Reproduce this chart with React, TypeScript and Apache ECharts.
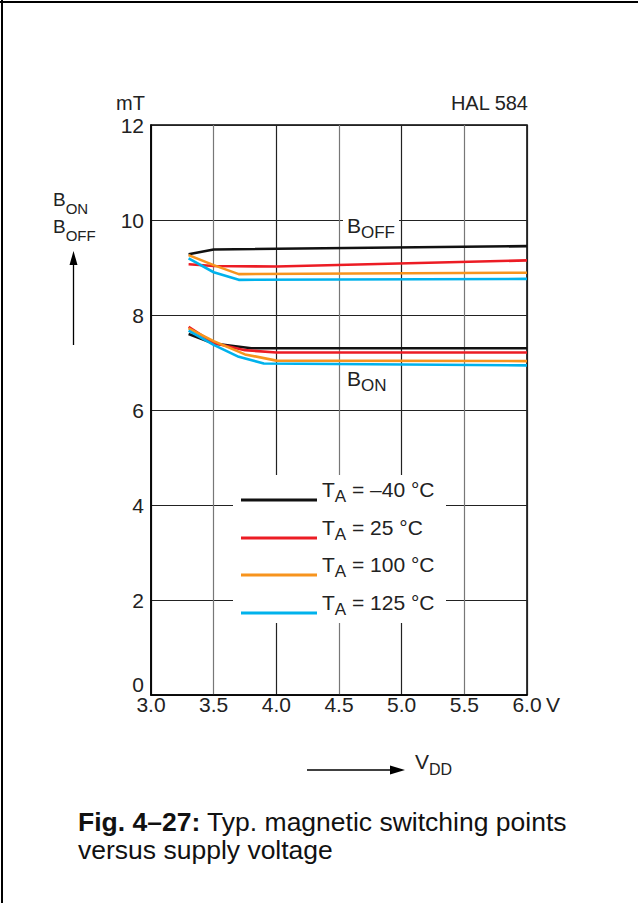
import React, { useEffect, useRef } from "react";
import * as echarts from "echarts";

const FONT = '"Liberation Sans", Arial, Helvetica, sans-serif';
const TEXT = "#222222";

// ---- data ----
const xMin = 3.0;
const xMax = 6.0;
const xStep = 0.5;
const yMin = 0;
const yMax = 12;
const yStep = 2;

const tempLabels = ["–40", "25", "100", "125"];
const tempColors = ["#111111", "#ec1c24", "#f7941d", "#00b2ec"];

const bOffV_m40 = [3.3, 3.5, 6.0];
const bOff_m40 = [9.28, 9.38, 9.45];
const bOffV_25 = [3.3, 3.5, 4.0, 6.0];
const bOff_25 = [9.07, 9.03, 9.02, 9.15];
const bOffV_100 = [3.3, 3.5, 3.7, 6.0];
const bOff_100 = [9.26, 9.05, 8.86, 8.89];
const bOffV_125 = [3.3, 3.5, 3.7, 6.0];
const bOff_125 = [9.19, 8.9, 8.74, 8.76];

const bOnV_m40 = [3.3, 3.5, 3.8, 6.0];
const bOn_m40 = [7.6, 7.4, 7.3, 7.3];
const bOnV_25 = [3.3, 3.5, 3.75, 4.0, 6.0];
const bOn_25 = [7.75, 7.41, 7.26, 7.21, 7.21];
const bOnV_100 = [3.3, 3.5, 3.75, 4.0, 6.0];
const bOn_100 = [7.72, 7.45, 7.17, 7.04, 7.03];
const bOnV_125 = [3.3, 3.5, 3.7, 3.9, 6.0];
const bOn_125 = [7.67, 7.37, 7.12, 6.98, 6.94];

const offCurves = [
  [bOffV_m40, bOff_m40],
  [bOffV_25, bOff_25],
  [bOffV_100, bOff_100],
  [bOffV_125, bOff_125],
];
const onCurves = [
  [bOnV_m40, bOn_m40],
  [bOnV_25, bOn_25],
  [bOnV_100, bOn_100],
  [bOnV_125, bOn_125],
];

const zip = (xs: number[], ys: number[]) => xs.map((x, i) => [x, ys[i]]);

// ---- layout ----
const GRID = { left: 151, right: 111, top: 125, bottom: 208 };
const legendBox = { x: 233, y: 475, w: 213, h: 148 };
const legendRowY = [500, 538, 575, 613];
const legendLineX = [241, 317];
const legendTextX = 322;

const richSub = (
  mainSize: number,
  subSize: number,
  lh: number,
  slh: number
) => ({
  m: {
    fontSize: mainSize,
    fontFamily: FONT,
    fill: TEXT,
    lineHeight: lh,
    verticalAlign: "top",
  },
  s: {
    fontSize: subSize,
    fontFamily: FONT,
    fill: TEXT,
    lineHeight: slh,
    verticalAlign: "bottom",
  },
});

function subText(
  x: number,
  top: number,
  main: string,
  sub: string,
  rest: string,
  mainSize: number,
  subSize: number
) {
  return {
    type: "text",
    x,
    y: top,
    z: 110,
    style: {
      text: `{m|${main}}{s|${sub}}` + (rest ? `{m|${rest}}` : ""),
      rich: richSub(mainSize, subSize, 26, 13),
      align: "left",
      verticalAlign: "top",
    },
  };
}

function plainText(
  x: number,
  y: number,
  text: string,
  size: number,
  align: string,
  lineHeight?: number
) {
  return {
    type: "text",
    x,
    y,
    z: 110,
    style: {
      text,
      fontSize: size,
      fontFamily: FONT,
      fill: TEXT,
      align,
      verticalAlign: "middle",
      ...(lineHeight ? { lineHeight } : {}),
    },
  };
}

export default function App() {
  const ref = useRef<HTMLDivElement>(null);

  useEffect(() => {
    document.body.style.margin = "0";
    if (!ref.current) return;
    const chart = echarts.init(ref.current, undefined, { renderer: "svg" });

    const series: any[] = [];
    tempLabels.forEach((name, i) => {
      series.push({
        name,
        type: "line",
        data: zip(offCurves[i][0], offCurves[i][1]),
        symbol: "none",
        lineStyle: { color: tempColors[i], width: 2.6 },
        itemStyle: { color: tempColors[i] },
        z: 2 + i,
      });
      series.push({
        name,
        type: "line",
        data: zip(onCurves[i][0], onCurves[i][1]),
        symbol: "none",
        lineStyle: { color: tempColors[i], width: 2.6 },
        itemStyle: { color: tempColors[i] },
        z: 2 + i,
      });
    });

    const graphic: any[] = [
      // page border (top/left)
      { type: "line", z: 120, shape: { x1: 0, y1: 2, x2: 638, y2: 2 }, style: { stroke: "#000", lineWidth: 2 } },
      { type: "line", z: 120, shape: { x1: 2, y1: 0, x2: 2, y2: 903 }, style: { stroke: "#000", lineWidth: 2 } },
      // unit + title
      plainText(145, 103, "mT", 20, "right"),
      plainText(528, 103, "HAL 584", 20, "right"),
      plainText(546, 704, "V", 21, "left"),
      // y-axis zero label (raised above the x-axis labels, as in the figure)
      plainText(144, 684, String(yMin), 21, "right"),
      // left axis caption
      subText(53, 190, "B", "ON", "", 19, 15),
      subText(53, 216.5, "B", "OFF", "", 19, 15),
      { type: "line", z: 110, shape: { x1: 73.5, y1: 345, x2: 73.5, y2: 262 }, style: { stroke: "#000", lineWidth: 1.3 } },
      { type: "polygon", z: 110, shape: { points: [[73.5, 251], [69.5, 265], [77.5, 265]] }, style: { fill: "#000" } },
      // bottom axis caption
      { type: "line", z: 110, shape: { x1: 307, y1: 770, x2: 392, y2: 770 }, style: { stroke: "#000", lineWidth: 1.3 } },
      { type: "polygon", z: 110, shape: { points: [[405, 770], [390, 765.5], [390, 774.5]] }, style: { fill: "#000" } },
      subText(415, 751, "V", "DD", "", 21, 16),
      // curve labels
      { type: "rect", z: 105, shape: { x: 343, y: 213, width: 56, height: 31 }, style: { fill: "#fff" } },
      subText(347, 214.5, "B", "OFF", "", 21, 17),
      { type: "rect", z: 105, shape: { x: 343, y: 368, width: 50, height: 31 }, style: { fill: "#fff" } },
      subText(347, 367.5, "B", "ON", "", 21, 17),
      // legend
      {
        type: "rect",
        z: 100,
        shape: { x: legendBox.x, y: legendBox.y, width: legendBox.w, height: legendBox.h },
        style: { fill: "#fff" },
      },
      // caption
      {
        type: "text",
        x: 78,
        y: 808,
        z: 110,
        style: {
          text: "{b|Fig. 4–27:}{r| Typ. magnetic switching points}\n{r|versus supply voltage}",
          rich: {
            b: { fontSize: 26.5, fontFamily: FONT, fontWeight: "bold", fill: "#111", lineHeight: 28 },
            r: { fontSize: 26.5, fontFamily: FONT, fill: "#111", lineHeight: 28 },
          },
          align: "left",
          verticalAlign: "top",
        },
      },
    ];

    tempLabels.forEach((name, i) => {
      const y = legendRowY[i];
      graphic.push({
        type: "line",
        z: 110,
        shape: { x1: legendLineX[0], y1: y, x2: legendLineX[1], y2: y },
        style: { stroke: tempColors[i], lineWidth: 2.8 },
      });
      graphic.push(subText(legendTextX, y - 21, "T", "A", ` = ${name} °C`, 21, 17));
    });

    const option: any = {
      animation: false,
      backgroundColor: "#fff",
      grid: {
        ...GRID,
        show: true,
        borderColor: "#000",
        borderWidth: 1.5,
        backgroundColor: "transparent",
      },
      xAxis: {
        type: "value",
        min: xMin,
        max: xMax,
        interval: xStep,
        axisLine: { show: true, lineStyle: { color: "#000", width: 1.5 } },
        axisTick: { show: false },
        axisLabel: {
          fontSize: 21,
          fontFamily: FONT,
          color: TEXT,
          margin: -1,
          formatter: (v: number) => v.toFixed(1),
        },
        splitLine: { show: true, lineStyle: { color: ["#222", "#777"], width: 1.2 } },
      },
      yAxis: {
        type: "value",
        min: yMin,
        max: yMax,
        interval: yStep,
        axisLine: { show: true, lineStyle: { color: "#000", width: 1.5 } },
        axisTick: { show: false },
        axisLabel: {
          fontSize: 21,
          fontFamily: FONT,
          color: TEXT,
          margin: 7,
          showMinLabel: false,
        },
        splitLine: { show: true, lineStyle: { color: "#222", width: 1.2 } },
      },
      series,
      graphic,
    };

    chart.setOption(option);
    return () => chart.dispose();
  }, []);

  return (
    <div
      ref={ref}
      style={{ position: "absolute", left: 0, top: 0, width: 638, height: 903 }}
    />
  );
}
